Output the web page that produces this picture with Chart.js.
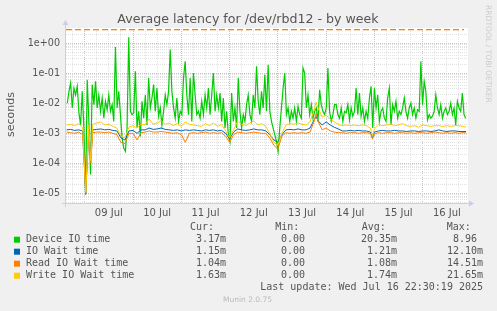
<!DOCTYPE html>
<html>
<head>
<meta charset="utf-8">
<script src="https://cdn.jsdelivr.net/npm/chart.js@4.4.1/dist/chart.umd.min.js"></script>
<style>
  body { margin: 0; background: #f0f0f0; }
  canvas { display: block; }
</style>
</head>
<body>
<canvas id="myChart" width="497" height="311"></canvas>
<script>
// time axis is in hours since 09 Jul 00:00
const xMin = -9.3;
const xMax = 190.5;
const dayLabels = ['09 Jul', '10 Jul', '11 Jul', '12 Jul', '13 Jul', '14 Jul', '15 Jul', '16 Jul'];

const yMin = 4.75e-6;
const yMax = 3.0;
const yTickValues = [1e-5, 1e-4, 1e-3, 1e-2, 1e-1, 1];
const yTickLabels = ['1e-05', '1e-04', '1e-03', '1e-02', '1e-01', '1e+00'];

// Device IO time, one sample every 49.5 minutes
const deviceStartHour = -8.65;
const deviceStepHours = 0.825;
const deviceTime = [
  0.0102, 0.025, 0.048, 0.007, 0.032, 0.019, 0.037, 0.0048, 0.0019, 0.025,
  0.0015, 0.0000089, 0.061, 0.0025, 0.000042, 0.042, 0.009, 0.054, 0.007, 0.019,
  0.0054, 0.015, 0.0032, 0.0116, 0.0061, 0.019, 0.0054, 0.009, 0.0025, 0.75,
  0.007, 0.025, 0.0042, 0.0007, 0.00032, 0.00025, 0.0015, 1.58, 0.0054,
  0.0042, 0.0048, 0.116, 0.0015, 0.0054, 0.00079, 0.0116, 0.0032, 0.019, 0.0019,
  0.07, 0.007, 0.015, 0.042, 0.0054, 0.032, 0.0037, 0.007, 0.0019, 0.0054,
  0.019, 0.009, 0.025, 0.61, 0.025, 0.007, 0.0032, 0.015, 0.0025, 0.0054,
  0.0042, 0.07, 0.25, 0.019, 0.0042, 0.07, 0.0025, 0.102, 0.019, 0.0042,
  0.0054,
  0.0032, 0.0116, 0.0042, 0.019, 0.007, 0.032, 0.0042, 0.019, 0.102, 0.0054,
  0.019, 0.007, 0.022, 0.0025, 0.015, 0.0015, 0.0054, 0.0009, 0.00054, 0.022,
  0.0025, 0.007, 0.0015, 0.07, 0.0054, 0.0015, 0.0042, 0.0025, 0.009, 0.019,
  0.0042, 0.0025, 0.019, 0.007, 0.171, 0.0116, 0.0042, 0.025, 0.007, 0.09,
  0.0054,
  0.194, 0.0054, 0.0025, 0.0015, 0.0009, 0.00054, 0.00025, 0.0015, 0.007, 0.032,
  0.102, 0.0042, 0.007, 0.0025, 0.0054, 0.0032, 0.007, 0.0025, 0.0079, 0.0042,
  0.0032, 0.15, 0.102, 0.007, 0.019, 0.0042, 0.009, 0.0032, 0.0054, 0.007,
  0.0025, 0.028, 0.009, 0.0054, 0.0042, 0.007, 0.15, 0.0054, 0.0025, 0.0042,
  0.009,
  0.009, 0.0042, 0.0032, 0.007, 0.0025, 0.0054, 0.0048, 0.009, 0.0028, 0.007,
  0.0037, 0.0054, 0.032, 0.0042, 0.022, 0.0037, 0.007, 0.0025, 0.0054, 0.0032,
  0.015, 0.037, 0.0015, 0.032, 0.007, 0.019, 0.0025, 0.0054, 0.007, 0.0032,
  0.0025, 0.015, 0.032, 0.0019, 0.009, 0.0054, 0.0116, 0.0032, 0.0054, 0.0042,
  0.007,
  0.015, 0.0054, 0.0032, 0.007, 0.0102, 0.0042, 0.007, 0.0032, 0.0061, 0.0054,
  0.25, 0.009, 0.054, 0.025, 0.0028, 0.0042, 0.0032, 0.0037, 0.0054, 0.019,
  0.007, 0.0042, 0.009, 0.0032, 0.0054, 0.007, 0.0042, 0.0054, 0.0102, 0.0042,
  0.007, 0.0019, 0.0116, 0.007, 0.0054, 0.022, 0.0042, 0.0032
];

// the three wait series share these sample hours
const waitHours = [
  -9, -7, -5, -3, -1, 0.5, 2, 3, 4, 6,
  8, 10, 12, 14, 16, 18, 20, 22, 24, 26,
  28, 30, 32, 34, 36, 38, 40, 42, 44, 46,
  48, 50, 52, 54, 56, 58, 60, 62, 64, 66,
  68, 70, 72, 74, 76, 78, 80, 82, 84, 86,
  88, 90, 92, 94, 96, 98, 100, 102, 104, 106,
  108, 110, 112, 114, 115, 116, 118, 120, 122, 124,
  126, 128, 130, 132, 134, 136, 138, 140, 142, 143,
  144, 146, 148, 150, 152, 154, 156, 158, 160, 162,
  164, 166, 168, 170, 172, 174, 176, 178, 180, 182,
  184, 186, 188, 189.5
];

const ioWait = [
  0.0013, 0.00135, 0.00125, 0.0013, 0.0012, 0.00001, 0.0013, 0.00015, 0.0013, 0.00135,
  0.0014, 0.0013, 0.00135, 0.00125, 0.0012, 0.0007, 0.0006, 0.0012, 0.00125, 0.001,
  0.0013, 0.0013, 0.0015, 0.00135, 0.0014, 0.0015, 0.00135, 0.0013, 0.00125, 0.0013,
  0.0012, 0.0013, 0.00125, 0.0013, 0.00125, 0.0012, 0.0013, 0.00125, 0.0013, 0.0012,
  0.00125, 0.001, 0.00065, 0.0011, 0.0014, 0.0013, 0.00125, 0.0013, 0.0014, 0.0013,
  0.0013, 0.0012, 0.0009, 0.0006, 0.0005, 0.0009, 0.0013, 0.00135, 0.0013, 0.0014,
  0.0013, 0.0013, 0.0015, 0.0028, 0.0036, 0.0026, 0.0019, 0.0024, 0.0019, 0.0016,
  0.0014, 0.0012, 0.0012, 0.00125, 0.0012, 0.00125, 0.0012, 0.0012, 0.0011, 0.0007,
  0.0011, 0.0012, 0.00125, 0.0012, 0.0012, 0.00125, 0.0012, 0.0012, 0.00115, 0.0012,
  0.0012, 0.00115, 0.0012, 0.0012, 0.00115, 0.0012, 0.0013, 0.0012, 0.00115, 0.0012,
  0.0012, 0.00115, 0.00115, 0.00115
];

const readWait = [
  0.0011, 0.00105, 0.001, 0.0011, 0.0009, 0.00001, 0.001, 0.0001, 0.00105, 0.0011,
  0.0011, 0.00105, 0.0011, 0.001, 0.0009, 0.0005, 0.00045, 0.001, 0.001, 0.0006,
  0.00105, 0.0011, 0.0012, 0.0011, 0.0011, 0.00115, 0.0011, 0.00105, 0.001, 0.00105,
  0.0009, 0.0005, 0.001, 0.00105, 0.001, 0.00105, 0.0011, 0.001, 0.00105, 0.001,
  0.00105, 0.0008, 0.0005, 0.0009, 0.0011, 0.00105, 0.001, 0.00105, 0.0011, 0.00105,
  0.001, 0.001, 0.0007, 0.0004, 0.0003, 0.0008, 0.00105, 0.001, 0.00105, 0.001,
  0.00105, 0.001, 0.0011, 0.0025, 0.0045, 0.0025, 0.0013, 0.0015, 0.0012, 0.0011,
  0.00105, 0.00105, 0.001, 0.00105, 0.00105, 0.001, 0.00105, 0.00105, 0.001, 0.00065,
  0.00095, 0.00105, 0.001, 0.00105, 0.00105, 0.001, 0.00105, 0.00105, 0.001, 0.00105,
  0.001, 0.00105, 0.00105, 0.001, 0.00105, 0.0011, 0.00105, 0.001, 0.00105, 0.001,
  0.00105, 0.001, 0.00105, 0.00104
];

const writeWait = [
  0.0019, 0.002, 0.0018, 0.0021, 0.0016, 0.000011, 0.0018, 0.00012, 0.002, 0.0022,
  0.0024, 0.0019, 0.002, 0.0017, 0.0015, 0.0008, 0.0007, 0.0016, 0.0018, 0.0015,
  0.002, 0.0019, 0.003, 0.002, 0.0022, 0.0026, 0.002, 0.0022, 0.0018, 0.0021,
  0.0017, 0.0024, 0.002, 0.0019, 0.0018, 0.0017, 0.0021, 0.0018, 0.0022, 0.0017,
  0.002, 0.0012, 0.0007, 0.0013, 0.0025, 0.002, 0.0018, 0.0022, 0.0026, 0.0019,
  0.0021, 0.0017, 0.001, 0.0005, 0.0004, 0.001, 0.0019, 0.0021, 0.002, 0.0022,
  0.002, 0.0019, 0.0024, 0.006, 0.011, 0.007, 0.0035, 0.004, 0.003, 0.0024,
  0.002, 0.0018, 0.0019, 0.0018, 0.0019, 0.0018, 0.0019, 0.0018, 0.0015, 0.0008,
  0.0014, 0.0019, 0.0018, 0.0019, 0.002, 0.0018, 0.0019, 0.0021, 0.0018, 0.0017,
  0.0018, 0.0016, 0.0019, 0.0018, 0.0017, 0.0018, 0.0018, 0.0017, 0.0018, 0.0017,
  0.0018, 0.0018, 0.0017, 0.0016
];

// legend table
const seriesNames = ['Device IO time', 'IO Wait time', 'Read IO Wait time', 'Write IO Wait time'];
const seriesColors = ['#00CC00', '#0066B3', '#FF8000', '#FFCC00'];
const curValues = ['3.17m', '1.15m', '1.04m', '1.63m'];
const minValues = ['0.00 ', '0.00 ', '0.00 ', '0.00 '];
const avgValues = ['20.35m', '1.21m', '1.08m', '1.74m'];
const maxValues = ['8.96 ', '12.10m', '14.51m', '21.65m'];

const majorGrid = '#ebb4b4';
const minorGrid = '#e2e2e2';
const textColor = '#555';

const devicePoints = deviceTime.map(function(v, i) {
  return { x: deviceStartHour + i * deviceStepHours, y: v };
});

function toPoints(hours, values) {
  return values.map(function(v, i) { return { x: hours[i], y: v }; });
}

// grid lines every 6 hours, log grid 1..9 per decade
const xGridHours = [];
for (let h = -6; h <= 186; h += 6) xGridHours.push(h);

const yGridValues = [];
[1e-6].concat(yTickValues).forEach(function(d) {
  for (let m = 1; m <= 9; m++) {
    const v = m === 1 ? d : m * d;
    if (v >= yMin && v < yMax * 0.95) yGridValues.push(v);
  }
});

const rrdPlugin = {
  id: 'rrd',
  beforeDraw(chart) {
    const c = chart.ctx;
    const a = chart.chartArea;
    c.save();
    c.fillStyle = '#f0f0f0';
    c.fillRect(0, 0, chart.width, chart.height);
    c.fillStyle = '#ffffff';
    c.fillRect(a.left, a.top - 1, a.right - a.left, a.bottom - a.top + 1);
    c.restore();
  },
  afterDraw(chart) {
    const c = chart.ctx;
    const a = chart.chartArea;
    c.save();

    // dashed orange rule along the top, two rows like the anti-aliased original
    for (let x = a.left; x < a.right - 4; x += 9) {
      const w = Math.min(6, a.right - 4 - x);
      c.fillStyle = '#FF8000';
      c.fillRect(x, a.top, w, 1);
      c.fillStyle = 'rgba(255,128,0,0.3)';
      c.fillRect(x, a.top + 1, w, 1);
    }

    // axes with arrows
    c.strokeStyle = '#c9cfe6';
    c.fillStyle = '#c9cfe6';
    c.lineWidth = 1;
    c.beginPath();
    c.moveTo(a.left - 0.5, a.bottom + 4);
    c.lineTo(a.left - 0.5, a.top - 5);
    c.moveTo(a.left - 4, a.bottom + 0.5);
    c.lineTo(a.right + 2, a.bottom + 0.5);
    c.stroke();
    c.beginPath();
    c.moveTo(a.left - 3.5, a.top - 4);
    c.lineTo(a.left + 2.5, a.top - 4);
    c.lineTo(a.left - 0.5, a.top - 9);
    c.fill();
    c.beginPath();
    c.moveTo(a.right + 1, a.bottom - 2.5);
    c.lineTo(a.right + 1, a.bottom + 3.5);
    c.lineTo(a.right + 6, a.bottom + 0.5);
    c.fill();

    // title
    c.fillStyle = textColor;
    c.font = '12.6px "DejaVu Sans"';
    c.textAlign = 'center';
    c.textBaseline = 'middle';
    c.fillText('Average latency for /dev/rbd12 - by week', 248, 19.5);

    // y title
    c.save();
    c.translate(11.5, 114.5);
    c.rotate(-Math.PI / 2);
    c.font = '11px "DejaVu Sans"';
    c.fillText('seconds', 0, 0);
    c.restore();

    // watermark
    c.save();
    c.translate(488, 5);
    c.rotate(Math.PI / 2);
    c.fillStyle = '#cccccc';
    c.font = '7.6px "DejaVu Sans"';
    c.textAlign = 'left';
    c.fillText('RRDTOOL / TOBI OETIKER', 0, 0);
    c.restore();

    // legend
    c.font = '10px "DejaVu Sans Mono"';
    c.textAlign = 'left';
    c.fillStyle = textColor;
    c.fillText('Cur:', 190, 227.5);
    c.fillText('Min:', 275.3, 227.5);
    c.fillText('Avg:', 361.7, 227.5);
    c.fillText('Max:', 446.7, 227.5);
    seriesNames.forEach(function(name, i) {
      const y = 239.7 + i * 12;
      c.fillStyle = seriesColors[i];
      c.fillRect(14, y - 3, 6, 6);
      c.fillStyle = textColor;
      c.textAlign = 'left';
      c.fillText(name, 26, y);
      c.textAlign = 'right';
      c.fillText(curValues[i], 226, y);
      c.fillText(minValues[i], 311, y);
      c.fillText(avgValues[i], 397, y);
      c.fillText(maxValues[i], 483, y);
    });
    c.textAlign = 'right';
    c.fillText('Last update: Wed Jul 16 22:30:19 2025', 483, 287.7);

    c.textAlign = 'center';
    c.fillStyle = '#bbbbbb';
    c.font = '7.5px "DejaVu Sans"';
    c.fillText('Munin 2.0.75', 247.5, 300);
    c.restore();
  }
};

const ctx = document.getElementById('myChart').getContext('2d');

const chart = new Chart(ctx, {
  type: 'line',
  data: {
    datasets: [
      { label: 'Write IO Wait time', data: toPoints(waitHours, writeWait), borderColor: '#FFCC00', order: 0 },
      { label: 'Read IO Wait time', data: toPoints(waitHours, readWait), borderColor: '#FF8000', order: 1 },
      { label: 'IO Wait time', data: toPoints(waitHours, ioWait), borderColor: '#0066B3', order: 2 },
      { label: 'Device IO time', data: devicePoints, borderColor: '#00CC00', borderWidth: 1.2, order: 3 }
    ]
  },
  options: {
    responsive: false,
    devicePixelRatio: 1,
    animation: false,
    layout: { padding: { left: 0, right: 29, top: 29, bottom: 0 } },
    elements: {
      point: { radius: 0 },
      line: { borderWidth: 1, tension: 0, fill: false }
    },
    plugins: {
      legend: { display: false },
      tooltip: { enabled: false }
    },
    scales: {
      x: {
        type: 'linear',
        min: xMin,
        max: xMax,
        afterBuildTicks: function(scale) {
          scale.ticks = xGridHours.map(function(h) { return { value: h }; });
        },
        afterFit: function(scale) { scale.height = 108; },
        grid: {
          drawTicks: false,
          color: function(c) { return c.tick && c.tick.value % 24 === 0 ? majorGrid : minorGrid; }
        },
        border: { display: false, dash: [1, 1] },
        ticks: {
          autoSkip: false,
          maxRotation: 0,
          padding: 4,
          color: textColor,
          font: { family: 'DejaVu Sans', size: 10 },
          callback: function(v) {
            return v % 24 === 12 ? dayLabels[(v - 12) / 24] : '';
          }
        }
      },
      y: {
        type: 'logarithmic',
        min: yMin,
        max: yMax,
        afterBuildTicks: function(scale) {
          scale.ticks = yGridValues.map(function(v) { return { value: v }; });
        },
        afterFit: function(scale) { scale.width = 66; },
        grid: {
          drawTicks: false,
          color: function(c) { return c.tick && yTickValues.indexOf(c.tick.value) >= 0 ? majorGrid : minorGrid; }
        },
        border: { display: false, dash: [1, 1] },
        ticks: {
          autoSkip: false,
          padding: 6,
          color: textColor,
          font: { family: 'DejaVu Sans', size: 9.6 },
          callback: function(v) {
            const i = yTickValues.indexOf(v);
            return i >= 0 ? yTickLabels[i] : '';
          }
        }
      }
    }
  },
  plugins: [rrdPlugin]
});
</script>
</body>
</html>
